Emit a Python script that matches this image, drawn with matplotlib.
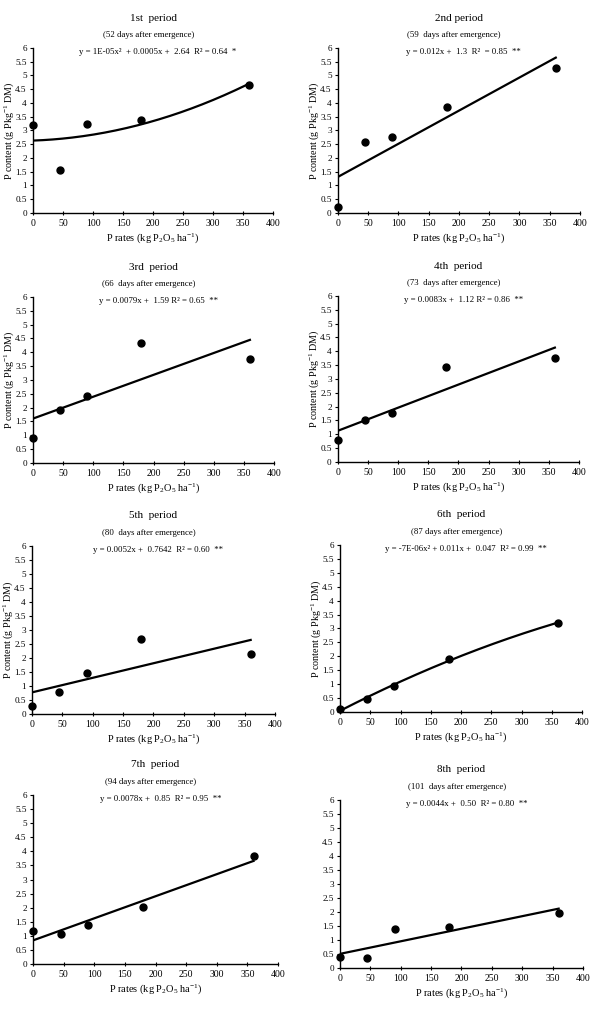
import numpy as np
import matplotlib
matplotlib.use("Agg")
import matplotlib.pyplot as plt

plt.rcParams["font.family"] = ["Liberation Serif", "DejaVu Serif"]
plt.rcParams["mathtext.fontset"] = "custom"
plt.rcParams["mathtext.rm"] = "Liberation Serif"
plt.rcParams["mathtext.it"] = "Liberation Serif:italic"

# P rates (kg P2O5 ha-1)
rates = [0, 45, 90, 180, 360]

# P content per period (g P kg-1 DM)
p1 = [3.2, 1.58, 3.25, 3.38, 4.65]
p2 = [0.22, 2.57, 2.77, 3.85, 5.28]
p3 = [0.92, 1.9, 2.42, 4.35, 3.77]
p4 = [0.8, 1.5, 1.78, 3.45, 3.75]
p5 = [0.3, 0.8, 1.47, 2.68, 2.13]
p6 = [0.1, 0.47, 0.95, 1.9, 3.2]
p7 = [1.18, 1.07, 1.38, 2.02, 3.83]
p8 = [0.4, 0.35, 1.38, 1.45, 1.98]

titles = ["1st  period", "2nd period", "3rd  period", "4th  period",
          "5th  period", "6th  period", "7th  period", "8th  period"]
days = ["(52 days after emergence)", "(59  days after emergence)",
        "(66  days after emergence)", "(73  days after emergence)",
        "(80  days after emergence)", "(87 days after emergence)",
        "(94 days after emergence)", "(101  days after emergence)"]
equations = ["y = 1E-05x²  + 0.0005x +  2.64  R² = 0.64  *",
             "y = 0.012x +  1.3  R²  = 0.85  **",
             "y = 0.0079x +  1.59 R² = 0.65  **",
             "y = 0.0083x +  1.12 R² = 0.86  **",
             "y = 0.0052x +  0.7642  R² = 0.60  **",
             "y = -7E-06x² + 0.011x +  0.047  R² = 0.99  **",
             "y = 0.0078x +  0.85  R² = 0.95  **",
             "y = 0.0044x +  0.50  R² = 0.80  **"]
degrees = [2, 1, 1, 1, 1, 2, 1, 1]
series = [p1, p2, p3, p4, p5, p6, p7, p8]

# axes boxes in figure fractions [left, bottom, width, height]
boxes = [[0.0556, 0.7904, 0.404, 0.1624], [0.569, 0.7904, 0.4074, 0.1624],
         [0.0556, 0.5443, 0.4057, 0.1634], [0.569, 0.5453, 0.4057, 0.1634],
         [0.0539, 0.2972, 0.409, 0.1654], [0.5724, 0.2992, 0.4074, 0.1644],
         [0.0556, 0.0512, 0.4125, 0.1663], [0.5724, 0.0472, 0.409, 0.1654]]

fig = plt.figure(figsize=(5.94, 10.16), dpi=100)

for i, (vals, box) in enumerate(zip(series, boxes)):
    ax = fig.add_axes(box)
    coef = np.polyfit(rates, vals, degrees[i])
    xs = np.linspace(0, 360, 200)
    ax.plot(xs, np.polyval(coef, xs), color="black", lw=1.6, zorder=2)
    ax.plot(rates, vals, "o", color="black", ms=5, clip_on=False, zorder=3)

    ax.set_xlim(0, 400)
    ax.set_ylim(0, 6)
    ax.set_xticks(range(0, 401, 50))
    yt = np.arange(0, 6.01, 0.5)
    ax.set_yticks(yt)
    ax.set_yticklabels([f"{v:g}" for v in yt])
    ax.tick_params(axis="x", labelsize=7, length=2.5, width=0.8, pad=3, direction="inout")
    ax.tick_params(axis="y", labelsize=6.6, length=2.5, width=0.8, pad=2)
    for s in ["top", "right"]:
        ax.spines[s].set_visible(False)
    for s in ["left", "bottom"]:
        ax.spines[s].set_linewidth(1.0)

    ax.text(0.5, 1.18, titles[i], transform=ax.transAxes, ha="center", va="center", fontsize=8)
    ax.text(0.48, 1.08, days[i], transform=ax.transAxes, ha="center", va="center", fontsize=6.3)
    ax.text(0.52, 0.975, equations[i], transform=ax.transAxes, ha="center", va="center", fontsize=6.3)

    ax.set_xlabel(r"P rates (kg P$_2$O$_5$ ha$^{-1}$)", fontsize=7.5, labelpad=2)
    if i < 6:
        ax.set_ylabel(r"P content (g Pkg$^{-1}$ DM)", fontsize=7.3)
        ax.yaxis.set_label_coords(-0.072, 0.5)

fig.savefig("out.png", dpi=100)
